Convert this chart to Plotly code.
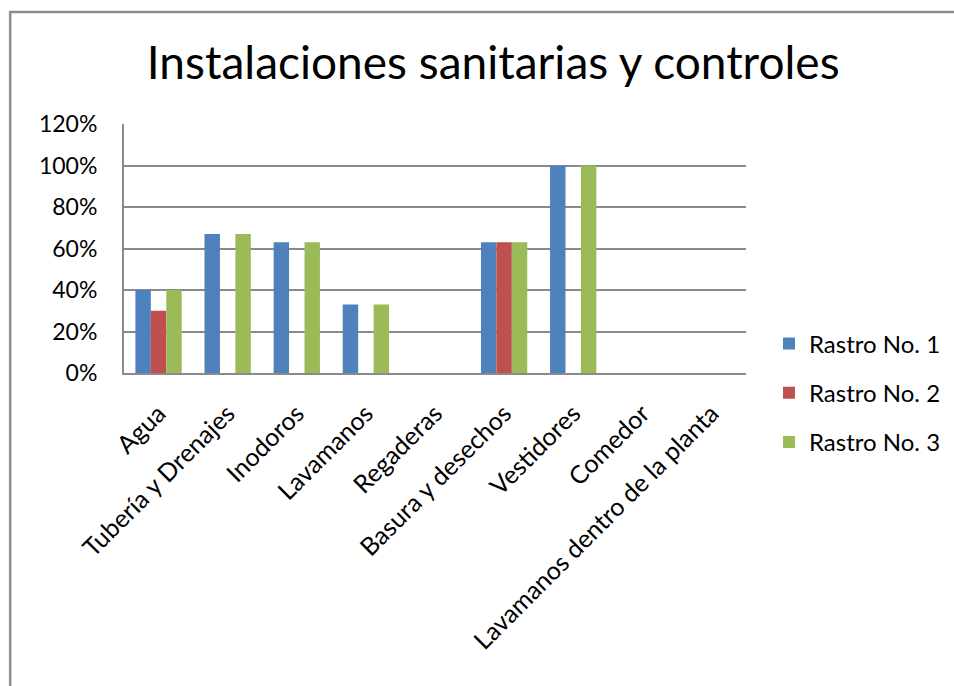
import plotly.graph_objects as go

categories = [
    "Agua",
    "Tubería y Drenajes",
    "Inodoros",
    "Lavamanos",
    "Regaderas",
    "Basura y desechos",
    "Vestidores",
    "Comedor",
    "Lavamanos dentro de la planta",
]
rastro_1 = [0.40, 0.67, 0.63, 0.33, 0.0, 0.63, 1.00, 0.0, 0.0]
rastro_2 = [0.30, 0.0, 0.0, 0.0, 0.0, 0.63, 0.0, 0.0, 0.0]
rastro_3 = [0.40, 0.67, 0.63, 0.33, 0.0, 0.63, 1.00, 0.0, 0.0]
series_names = ["Rastro No. 1", "Rastro No. 2", "Rastro No. 3"]
series_colors = ["#4F81BD", "#C0504D", "#9BBB59"]
y_ticks = [0.0, 0.2, 0.4, 0.6, 0.8, 1.0, 1.2]

FONT = "Lato"
GRID = "#8a8a8a"

fig = go.Figure()
for name, vals, color in zip(series_names, [rastro_1, rastro_2, rastro_3], series_colors):
    fig.add_trace(go.Bar(
        x=categories,
        y=vals,
        name=name,
        legendgroup=name,
        marker=dict(color=color, line=dict(width=0)),
    ))

fig.update_layout(
    width=954,
    height=686,
    margin=dict(l=124, r=208, t=124, b=313, autoexpand=False),
    paper_bgcolor="white",
    plot_bgcolor="white",
    barmode="group",
    bargap=0.33,
    bargroupgap=0,
    font=dict(family=FONT, color="#000000", size=23),
    title=dict(
        text="Instalaciones sanitarias y controles",
        font=dict(family=FONT, size=46, color="#000000"),
        x=0.517,
        xanchor="center",
        y=0.908,
        yanchor="middle",
    ),
    legend=dict(
        x=1.037,
        xanchor="left",
        y=-0.08,
        yanchor="middle",
        font=dict(family=FONT, size=24),
        itemwidth=30,
        tracegroupgap=15,
        bgcolor="rgba(0,0,0,0)",
    ),
    showlegend=True,
)

fig.update_xaxes(
    tickangle=-45,
    tickfont=dict(family=FONT, size=25),
    showline=True,
    linecolor=GRID,
    linewidth=2,
    showgrid=False,
    ticks="",
    ticklabelstandoff=14,
)
fig.update_yaxes(
    range=[0, 1.2],
    tickvals=y_ticks,
    tickformat=".0%",
    tickfont=dict(family=FONT, size=23),
    showline=True,
    linecolor=GRID,
    linewidth=2,
    showgrid=True,
    gridcolor=GRID,
    gridwidth=1.5,
    zeroline=False,
    ticks="",
    ticklabelstandoff=20,
)

# outer chart frame, running off the right and bottom edges
fig.add_shape(
    type="rect",
    xref="paper", yref="paper",
    x0=-0.183, x1=1.5, y0=-1.5, y1=1.45,
    line=dict(color="#8c8c8c", width=2.5),
    fillcolor="rgba(0,0,0,0)",
    layer="below",
)

fig.write_html("out.html")
